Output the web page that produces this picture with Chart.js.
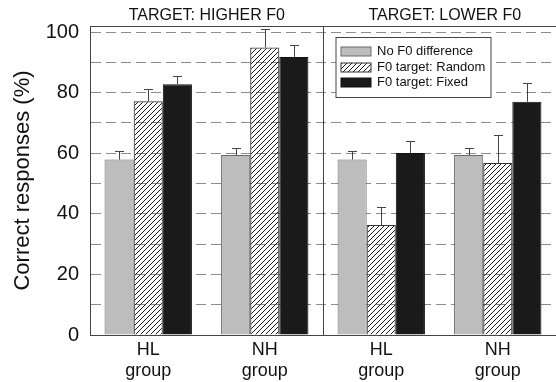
<!DOCTYPE html>
<html>
<head>
<meta charset="utf-8">
<script src="https://cdn.jsdelivr.net/npm/chart.js@4/dist/chart.umd.min.js"></script>
<style>
  html, body { margin: 0; padding: 0; background: #ffffff; }
  #wrap { width: 556px; height: 382px; position: relative; }
</style>
</head>
<body>
<div id="wrap"><canvas id="c" width="556" height="382"></canvas></div>
<script>
// ---- data ----
const categories = [['HL', 'group'], ['NH', 'group'], ['HL', 'group'], ['NH', 'group']];
const panelTitles = ['TARGET: HIGHER F0', 'TARGET: LOWER F0'];
const seriesNames = ['No F0 difference', 'F0 target: Random', 'F0 target: Fixed'];
const noDiffValues = [57.9, 59.4, 57.9, 59.4];
const randomValues = [77.2, 94.9, 36.3, 56.8];
const fixedValues = [82.8, 91.8, 60.1, 77.0];
const noDiffErrors = [2.7, 2.2, 2.7, 2.3];
const randomErrors = [4.0, 6.1, 6.0, 9.2];
const fixedErrors = [2.6, 3.9, 4.0, 6.3];
const yGridValues = [0, 10, 20, 30, 40, 50, 60, 70, 80, 90, 100];
const yTickValues = [0, 20, 40, 60, 80, 100];

// ---- hatch pattern ----
function makeHatch() {
  const p = document.createElement('canvas');
  p.width = 5; p.height = 5;
  const g = p.getContext('2d');
  g.strokeStyle = '#1a1a1a';
  g.lineWidth = 1;
  g.beginPath();
  g.moveTo(-1, 6); g.lineTo(6, -1);
  g.moveTo(-1, 1); g.lineTo(1, -1);
  g.moveTo(4, 6); g.lineTo(6, 4);
  g.stroke();
  return document.getElementById('c').getContext('2d').createPattern(p, 'repeat');
}
const hatch = makeHatch();

const FONT = "'Liberation Sans', Arial, sans-serif";

const errorBarPlugin = {
  id: 'errorBars',
  afterDatasetsDraw(chart) {
    const ctx = chart.ctx;
    const y = chart.scales.y;
    ctx.save();
    ctx.strokeStyle = '#444';
    ctx.lineWidth = 1;
    chart.data.datasets.forEach((ds, di) => {
      const meta = chart.getDatasetMeta(di);
      meta.data.forEach((bar, i) => {
        const v = ds.data[i];
        const e = ds.errors[i];
        const x = Math.round(bar.x) + 0.5;
        const y0 = y.getPixelForValue(v);
        const y1 = Math.round(y.getPixelForValue(v + e)) + 0.5;
        ctx.beginPath();
        ctx.moveTo(x, y0);
        ctx.lineTo(x, y1);
        ctx.moveTo(x - 4.5, y1);
        ctx.lineTo(x + 4.5, y1);
        ctx.stroke();
      });
    });
    ctx.restore();
  }
};

const framePlugin = {
  id: 'frame',
  afterDraw(chart) {
    const ctx = chart.ctx;
    const a = chart.chartArea;
    const xs = chart.scales.x;
    const sepX = Math.round((xs.getPixelForValue(1) + xs.getPixelForValue(2)) / 2) + 0.5;
    ctx.save();
    ctx.strokeStyle = '#444';
    ctx.lineWidth = 1;
    ctx.beginPath();
    ctx.moveTo(a.left, Math.round(a.top) + 0.5);
    ctx.lineTo(a.right, Math.round(a.top) + 0.5);
    ctx.moveTo(sepX, a.top);
    ctx.lineTo(sepX, a.bottom);
    ctx.stroke();
    // panel titles
    ctx.fillStyle = '#111';
    ctx.font = '16px ' + FONT;
    ctx.textAlign = 'center';
    ctx.textBaseline = 'middle';
    ctx.fillText(panelTitles[0], (a.left + sepX) / 2, a.top - 10);
    ctx.fillText(panelTitles[1], (sepX + a.right) / 2 + 5, a.top - 10);
    // legend
    const lx = sepX + 12.5, ly = Math.round(a.top) + 11.5;
    const lw = 155, lh = 60;
    ctx.fillStyle = '#fff';
    ctx.fillRect(lx, ly, lw, lh);
    ctx.strokeStyle = '#444';
    ctx.strokeRect(lx, ly, lw, lh);
    ctx.font = '13px ' + FONT;
    ctx.textAlign = 'left';
    chart.data.datasets.forEach((ds, i) => {
      const cy = ly + 14 + i * 15.5;
      const sx = lx + 5, sw = 30, sh = 9;
      ctx.fillStyle = ds.backgroundColor;
      ctx.fillRect(sx, Math.round(cy - sh / 2), sw, sh);
      ctx.strokeStyle = ds.borderColor;
      ctx.strokeRect(sx, Math.round(cy - sh / 2), sw, sh);
      ctx.fillStyle = '#111';
      ctx.fillText(ds.label, lx + 41, cy);
    });
    ctx.restore();
  }
};

new Chart(document.getElementById('c'), {
  type: 'bar',
  data: {
    labels: categories,
    datasets: [
      { label: seriesNames[0], data: noDiffValues, errors: noDiffErrors,
        backgroundColor: '#bdbdbd', borderColor: '#6a6a6a', borderWidth: 1 },
      { label: seriesNames[1], data: randomValues, errors: randomErrors,
        backgroundColor: hatch, borderColor: '#333', borderWidth: 1 },
      { label: seriesNames[2], data: fixedValues, errors: fixedErrors,
        backgroundColor: '#1a1a1a', borderColor: '#111', borderWidth: 1 }
    ]
  },
  options: {
    responsive: false,
    animation: false,
    devicePixelRatio: 1,
    layout: { padding: { top: 26, right: 0, left: 0, bottom: 0 } },
    categoryPercentage: 0.75,
    barPercentage: 1.0,
    plugins: { legend: { display: false }, tooltip: { enabled: false } },
    scales: {
      x: {
        grid: { display: false, drawTicks: false },
        border: { display: true, color: '#444', width: 1 },
        ticks: { font: { family: FONT, size: 18, lineHeight: 1.2 }, color: '#111', padding: 4, maxRotation: 0 },
        afterFit(s) { s.height = 47; }
      },
      y: {
        min: 0,
        max: 102,
        afterBuildTicks(s) { s.ticks = yGridValues.map(v => ({ value: v })); },
        ticks: {
          font: { family: FONT, size: 20 },
          color: '#111',
          padding: 11,
          callback: v => yTickValues.includes(v) ? String(v) : ''
        },
        grid: { color: ctx => ctx.tick && ctx.tick.value === 0 ? 'rgba(0,0,0,0)' : '#8c8c8c', drawTicks: false, lineWidth: 1 },
        border: { display: true, color: '#444', width: 1, dash: [10, 5] },
        title: { display: true, text: 'Correct responses (%)', font: { family: FONT, size: 22 }, color: '#111', padding: { top: 10, bottom: 0 } },
        afterFit(s) { s.width = 90; }
      }
    }
  },
  plugins: [errorBarPlugin, framePlugin]
});
</script>
</body>
</html>
